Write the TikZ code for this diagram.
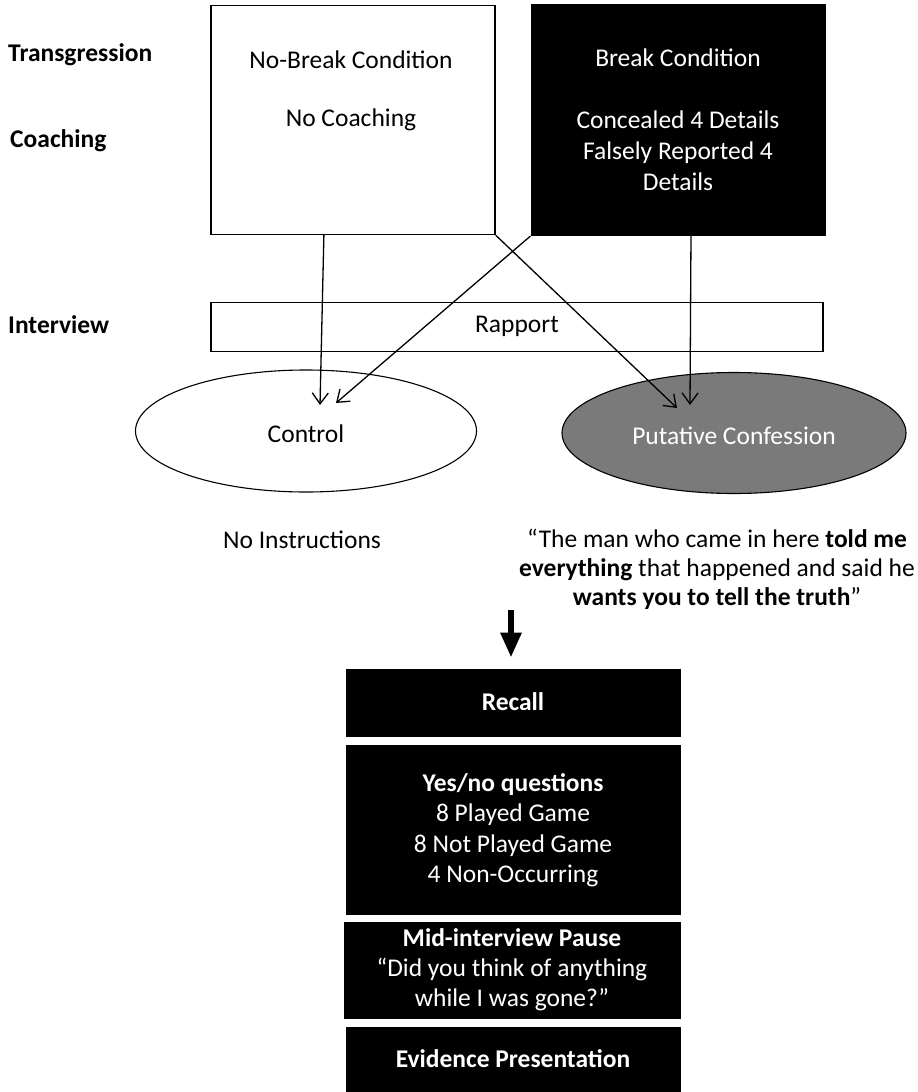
\documentclass[tikz,border=0pt]{standalone}
\usepackage{fontspec}
\setmainfont{Carlito}
\usetikzlibrary{shapes.geometric,arrows.meta,calc}
\definecolor{pcgray}{RGB}{122,122,122}
\begin{document}
\begin{tikzpicture}[x=1pt,y=-1pt,
  txt/.style={font=\fontsize{25.5}{31}\selectfont, inner sep=0pt, align=center},
  lbl/.style={font=\fontsize{25.5}{29}\selectfont\bfseries, inner sep=0pt, anchor=west},
  wbox/.style={draw=black, line width=1.4pt, fill=white, inner sep=0pt},
  bbox/.style={draw=black, line width=1pt, fill=black, inner sep=0pt},
  arr/.style={line width=1.3pt, -{Straight Barb[length=11pt,width=16pt]}},
  wtxt/.style={txt, text=white}
]
\useasboundingbox (0,0) rectangle (918,1092);
\fill[white] (0,0) rectangle (918,1092);

% side labels
\node[lbl] (ltrans) at (8,55) {Transgression};
\node[lbl] (lcoach) at (10,141) {Coaching};
\node[lbl] (linter) at (8,325) {Interview};

% top boxes
\node[wbox, minimum width=284pt, minimum height=229pt] (nb) at (353,120) {};
\node[bbox, minimum width=294pt, minimum height=231pt] (br) at (678,120) {};
\node[txt] (nbt1) at (351,60) {No-Break Condition};
\node[txt] (nbt2) at (351,120) {No Coaching};
\node[wtxt] (brt1) at (678,58) {Break Condition};
\node[wtxt] (brt2) at (678,151) {Concealed 4 Details\\Falsely Reported 4\\Details};

% rapport
\node[wbox, minimum width=612pt, minimum height=49pt] (rap) at (517,327) {};
\node[txt] (rapt) at (517,326) {Rapport};

% ellipses
\node[ellipse, draw=black, line width=1.1pt, fill=white, minimum width=341pt, minimum height=122pt, inner sep=0pt] (ctrl) at (306,431) {};
\node[txt] (ctrlt) at (306,434) {Control};
\node[ellipse, draw=black, line width=1.1pt, fill=pcgray, minimum width=344pt, minimum height=121pt, inner sep=0pt] (pc) at (734,433) {};
\node[wtxt] (pct) at (734,436) {Putative Confession};

% arrows
\draw[arr] ($(nb.south west)!0.398!(nb.south east)$) -- ([xshift=14pt,yshift=26pt]ctrl.center);
\draw[arr] (br.south west) -- ([xshift=30pt,yshift=28pt]ctrl.center);
\draw[arr] (nb.south east) -- ([xshift=-57pt,yshift=25pt]pc.center);
\draw[arr] ($(br.south west)!0.544!(br.south east)$) -- ([xshift=-44pt,yshift=28pt]pc.center);

% instructions
\node[txt] (noinst) at (302,540) {No Instructions};
\node[txt, font=\fontsize{25.5}{29}\selectfont] (quote) at (717,569) {“The man who came in here \textbf{told me}\\\textbf{everything} that happened and said he\\\textbf{wants you to tell the truth}”};

% bottom boxes
\node[bbox, minimum width=334pt, minimum height=67pt] (recall) at (513,702.5) {};
\node[wtxt, font=\fontsize{25.5}{31}\selectfont\bfseries] (recallt) at (513,702) {Recall};
\node[bbox, minimum width=334pt, minimum height=169pt] (yn) at (513,829.5) {};
\node[wtxt, font=\fontsize{25.5}{30.5}\selectfont] (ynt) at (513,830) {\textbf{Yes/no questions}\\8 Played Game\\8 Not Played Game\\4 Non-Occurring};
\node[bbox, minimum width=336pt, minimum height=96pt] (mid) at (512,970) {};
\node[wtxt, font=\fontsize{25.5}{30}\selectfont] (midt) at (512,970) {\textbf{Mid-interview Pause}\\“Did you think of anything\\while I was gone?”};
\node[bbox, minimum width=334pt, minimum height=75pt] (ev) at (513,1064.5) {};
\node[wtxt, font=\fontsize{25.5}{31}\selectfont\bfseries] (evt) at (513,1059) {Evidence Presentation};

% thick arrow
\coordinate (ta) at (511,610);
\draw[line width=6pt, -{Triangle[width=20pt,length=25pt]}] (ta) -- ([xshift=-2pt,yshift=11pt]recall.north);
\end{tikzpicture}
\end{document}
